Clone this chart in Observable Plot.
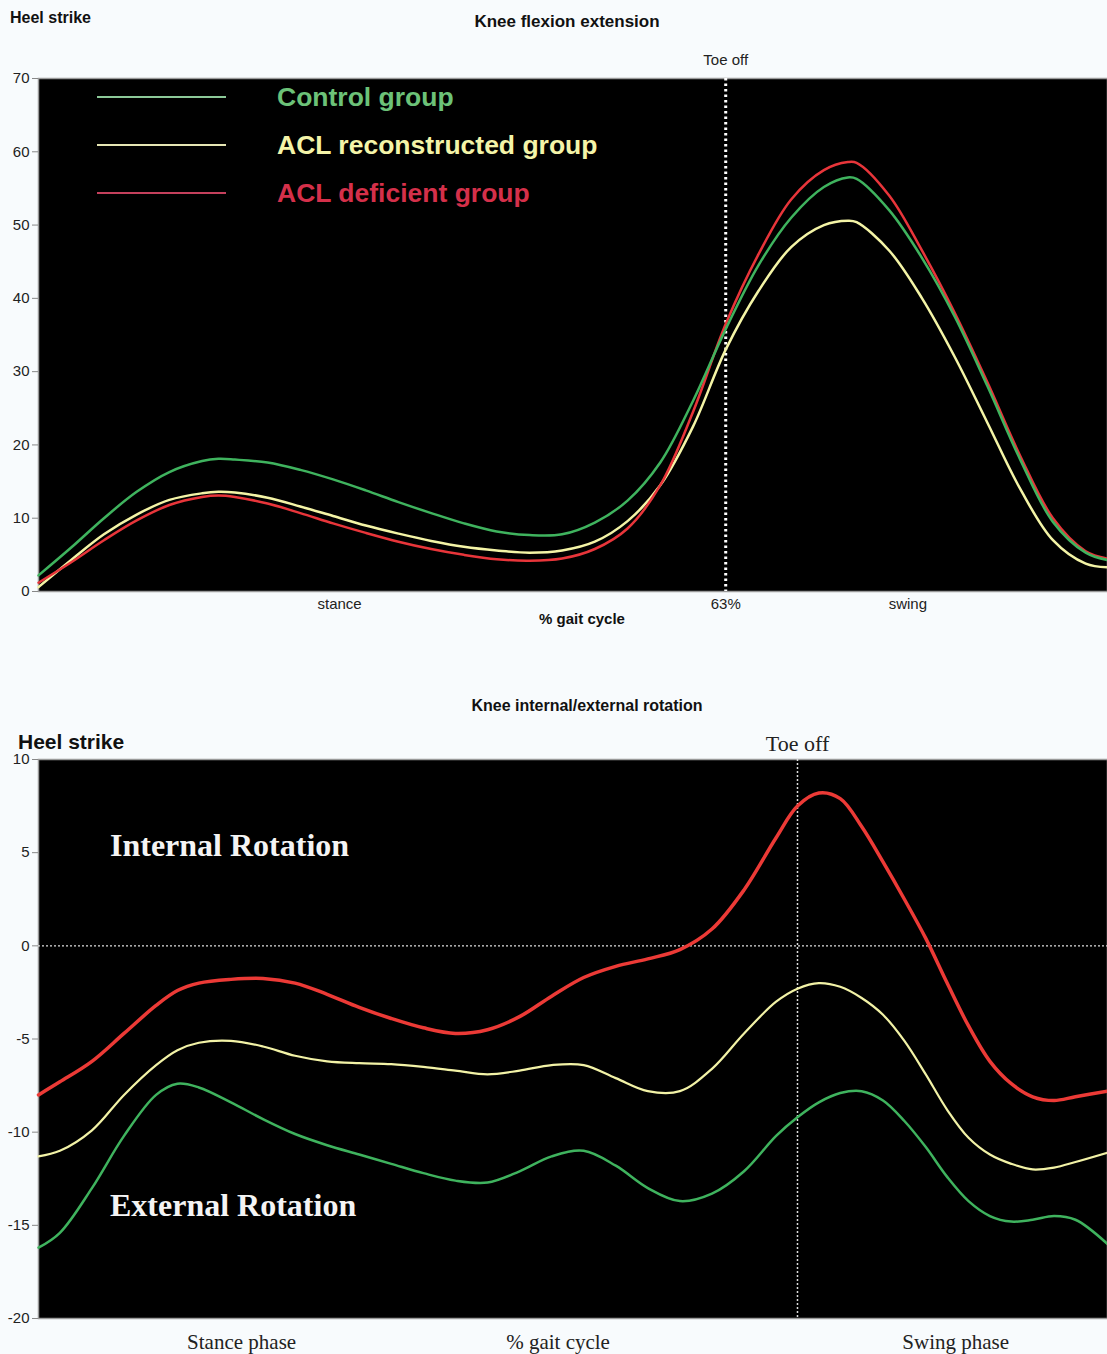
<!DOCTYPE html>
<html>
<head>
<meta charset="utf-8">
<script src="https://cdn.jsdelivr.net/npm/d3@7"></script>
<script src="https://cdn.jsdelivr.net/npm/@observablehq/plot@0.6"></script>
<style>
  body { margin: 0; background: #f8fbfd; }
  #wrap { position: relative; width: 1107px; height: 1354px; background: #f8fbfd; overflow: hidden; font-family: Arial, "Liberation Sans", sans-serif; color: #111; }
  .abs { position: absolute; white-space: nowrap; }
  .ctr { transform: translate(-50%, -50%); }
  .lft { transform: translate(0, -50%); }
  svg { position: absolute; left: 0; }
</style>
</head>
<body>
<div id="wrap"></div>
<script>
// ---------- Panel 1: Knee flexion extension ----------
const flexX = [0, 3, 6, 9, 12, 15, 16.5, 18, 21, 24, 27, 30, 33, 36, 39, 42, 45, 48, 51, 54, 57, 60, 63, 66, 69, 72, 74.2, 75, 78, 81, 84, 87, 90, 93, 96, 98];
const flexControl = [2.2, 6.0, 10.0, 13.6, 16.3, 17.8, 18.1, 18.0, 17.6, 16.6, 15.3, 13.8, 12.2, 10.7, 9.3, 8.2, 7.7, 7.8, 9.4, 12.4, 17.6, 26.0, 35.8, 44.5, 51.0, 55.2, 56.5, 56.3, 52.0, 45.5, 37.5, 28.0, 18.0, 9.5, 5.3, 4.3];
const flexReconstructed = [0.6, 4.3, 7.8, 10.5, 12.5, 13.4, 13.6, 13.5, 12.8, 11.6, 10.3, 9.0, 7.9, 6.9, 6.1, 5.6, 5.3, 5.6, 6.8, 9.6, 14.5, 22.5, 33.0, 41.0, 47.0, 50.0, 50.6, 50.4, 46.5, 40.0, 32.0, 23.0, 14.0, 7.0, 3.8, 3.3];
const flexDeficient = [1.2, 4.0, 7.0, 9.7, 11.8, 12.9, 13.1, 12.9, 12.0, 10.7, 9.3, 8.0, 6.8, 5.8, 5.0, 4.4, 4.2, 4.5, 5.8, 8.6, 14.5, 24.5, 36.5, 46.0, 53.5, 57.5, 58.6, 58.5, 54.0, 46.5, 38.0, 28.5, 18.5, 10.0, 5.5, 4.5];
const flexYTicks = [0, 10, 20, 30, 40, 50, 60, 70];
const flexXTicks = [27.6, 63, 79.7];
const flexXTickLabels = ["stance", "63%", "swing"];
const flexToeOff = 63;

// ---------- Panel 2: Knee internal/external rotation ----------
const rotX = [0, 2, 5, 8, 11, 13, 15, 18, 21, 24, 27, 30, 33, 36, 39, 42, 45, 48, 51, 54, 57, 60, 63, 66, 69, 71, 73, 75, 77, 79, 81, 83, 85, 87, 89, 91, 93, 95, 97, 100];
const rotDeficient = [-8.0, -7.3, -6.2, -4.7, -3.2, -2.4, -2.0, -1.8, -1.75, -2.0, -2.6, -3.3, -3.9, -4.4, -4.7, -4.5, -3.8, -2.7, -1.7, -1.1, -0.7, -0.2, 0.9, 3.0, 5.8, 7.5, 8.2, 7.9, 6.4, 4.5, 2.5, 0.4, -2.0, -4.3, -6.2, -7.4, -8.1, -8.3, -8.1, -7.8];
const rotReconstructed = [-11.3, -11.0, -9.9, -8.0, -6.4, -5.6, -5.2, -5.1, -5.4, -5.9, -6.2, -6.3, -6.35, -6.5, -6.7, -6.9, -6.7, -6.4, -6.4, -7.1, -7.8, -7.8, -6.6, -4.7, -3.0, -2.3, -2.0, -2.2, -2.8, -3.7, -5.1, -6.9, -8.8, -10.3, -11.2, -11.7, -12.0, -11.9, -11.6, -11.1];
const rotControl = [-16.2, -15.4, -13.0, -10.2, -8.0, -7.4, -7.6, -8.4, -9.3, -10.1, -10.7, -11.2, -11.7, -12.2, -12.6, -12.7, -12.1, -11.3, -11.0, -11.8, -13.0, -13.7, -13.3, -12.1, -10.2, -9.2, -8.4, -7.9, -7.8, -8.3, -9.4, -10.8, -12.4, -13.7, -14.5, -14.8, -14.7, -14.5, -14.7, -16.0];
const rotYTicks = [-20, -15, -10, -5, 0, 5, 10];
const rotXTicks = [19, 48.6, 85.8];
const rotXTickLabels = ["Stance phase", "% gait cycle", "Swing phase"];
const rotToeOff = 71;

const groups = ["Control group", "ACL reconstructed group", "ACL deficient group"];

// ---------- build ----------
const wrap = document.getElementById("wrap");
const toRows = (xs, ys) => xs.map((x, i) => ({x, y: ys[i]}));

function addText(txt, left, top, cls, style) {
  const d = document.createElement("div");
  d.className = "abs " + cls;
  d.style.left = left + "px";
  d.style.top = top + "px";
  Object.assign(d.style, style || {});
  d.textContent = txt;
  wrap.appendChild(d);
  return d;
}

// Panel 1
const p1 = Plot.plot({
  width: 1107, height: 640,
  marginLeft: 38, marginRight: 0, marginTop: 78, marginBottom: 49,
  style: {background: "transparent", fontFamily: "Arial, 'Liberation Sans', sans-serif", color: "#222", overflow: "visible"},
  x: {domain: [0, 98]},
  y: {domain: [0, 70]},
  marks: [
    Plot.frame({fill: "black", stroke: "#9a9a9a", strokeWidth: 1.5}),
    Plot.axisY({ticks: flexYTicks, tickSize: 6, tickPadding: 3, fontSize: 15, tickFormat: d => String(d), stroke: "#888", label: null}),
    Plot.axisX({ticks: flexXTicks, tickSize: 0, tickPadding: 7, fontSize: 15, tickFormat: (d, i) => flexXTickLabels[i], label: null}),
    Plot.ruleX([flexToeOff], {stroke: "white", strokeWidth: 3, strokeDasharray: "2.5 3"}),
    Plot.text([flexToeOff], {x: d => d, frameAnchor: "top", dy: -24, text: () => "Toe off", fontSize: 15, fill: "#222"}),
    Plot.line(toRows(flexX, flexReconstructed), {x: "x", y: "y", stroke: "#f4f4a6", strokeWidth: 2.5, curve: "catmull-rom"}),
    Plot.line(toRows(flexX, flexDeficient), {x: "x", y: "y", stroke: "#e8353a", strokeWidth: 2.5, curve: "catmull-rom"}),
    Plot.line(toRows(flexX, flexControl), {x: "x", y: "y", stroke: "#3fb35e", strokeWidth: 2.5, curve: "catmull-rom"})
  ]
});
p1.style.top = "0px";
wrap.appendChild(p1);

// Panel 2
const serif = "'Liberation Serif', 'DejaVu Serif', 'Times New Roman', serif";
const p2 = Plot.plot({
  width: 1107, height: 704,
  marginLeft: 38, marginRight: 0, marginTop: 109, marginBottom: 36,
  style: {background: "transparent", fontFamily: "Arial, 'Liberation Sans', sans-serif", color: "#222", overflow: "visible"},
  x: {domain: [0, 100]},
  y: {domain: [-20, 10]},
  marks: [
    Plot.frame({fill: "black", stroke: "#9a9a9a", strokeWidth: 1.5}),
    Plot.axisY({ticks: rotYTicks, tickSize: 6, tickPadding: 3, fontSize: 15, tickFormat: d => String(d), stroke: "#888", label: null}),
    Plot.axisX({ticks: rotXTicks, tickSize: 0, tickPadding: 16, fontSize: 21, fontFamily: serif, tickFormat: (d, i) => rotXTickLabels[i], label: null}),
    Plot.ruleY([0], {stroke: "#dddddd", strokeWidth: 1.2, strokeDasharray: "2 2"}),
    Plot.ruleX([rotToeOff], {stroke: "#dddddd", strokeWidth: 1.5, strokeDasharray: "2 2"}),
    Plot.text([rotToeOff], {x: d => d, frameAnchor: "top", dy: -24, text: () => "Toe off", fontSize: 22, fontFamily: serif, fill: "#222"}),
    Plot.line(toRows(rotX, rotControl), {x: "x", y: "y", stroke: "#3fb35e", strokeWidth: 2.5, curve: "catmull-rom"}),
    Plot.line(toRows(rotX, rotReconstructed), {x: "x", y: "y", stroke: "#f2f2a6", strokeWidth: 2.2, curve: "catmull-rom"}),
    Plot.line(toRows(rotX, rotDeficient), {x: "x", y: "y", stroke: "#ec3a36", strokeWidth: 3.5, curve: "catmull-rom"})
  ]
});
p2.style.top = "650px";
wrap.appendChild(p2);

// ---------- texts ----------
addText("Heel strike", 10, 18, "lft", {fontSize: "16px", fontWeight: "bold"});
addText("Knee flexion extension", 567, 22, "ctr", {fontSize: "17px", fontWeight: "bold"});
addText("% gait cycle", 582, 618, "ctr", {fontSize: "15px", fontWeight: "bold"});

addText("Knee internal/external rotation", 587, 706, "ctr", {fontSize: "16px", fontWeight: "bold"});
addText("Heel strike", 18, 742, "lft", {fontSize: "21px", fontWeight: "bold"});
addText("Internal Rotation", 110, 845, "lft", {fontSize: "32px", fontWeight: "bold", fontFamily: serif, color: "#f4f4f4"});
addText("External Rotation", 110, 1205, "lft", {fontSize: "32px", fontWeight: "bold", fontFamily: serif, color: "#f4f4f4"});

// legend (inside panel 1)
const legendLine = ["#8cc998", "#e6e6b4", "#c4405c"];
const legendText = ["#6cc278", "#f4f4a8", "#d5304a"];
groups.forEach((g, i) => {
  const y = 97 + i * 48;
  const ln = document.createElement("div");
  ln.className = "abs";
  Object.assign(ln.style, {left: "97px", top: (y - 1) + "px", width: "129px", height: "2px", background: legendLine[i]});
  wrap.appendChild(ln);
  addText(g, 277, y, "lft", {fontSize: "26.5px", fontWeight: "bold", color: legendText[i]});
});
</script>
</body>
</html>
